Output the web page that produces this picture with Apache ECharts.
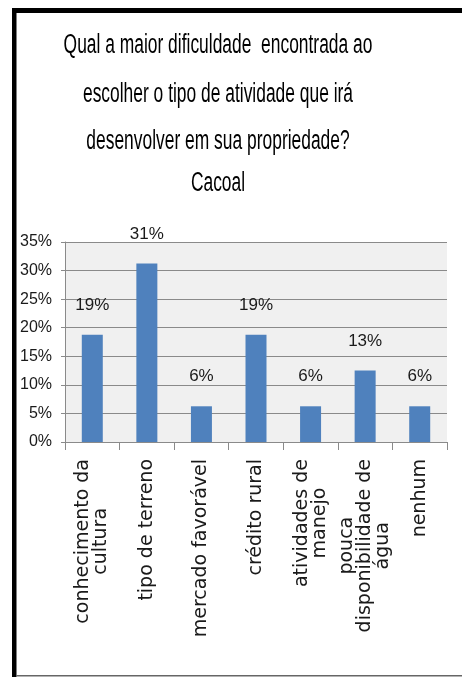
<!DOCTYPE html>
<html>
<head>
<meta charset="utf-8">
<script src="https://cdn.jsdelivr.net/npm/echarts@6/dist/echarts.min.js"></script>
<style>
  html, body { margin: 0; padding: 0; background: #fff; }
  #container { width: 462px; height: 677px; }
</style>
</head>
<body>
<div id="container"></div>
<script>
var dom = document.getElementById('container');
var myChart = echarts.init(dom, null, { renderer: 'canvas' });

// data (share of answers, %)
const titleLines = [
  'Qual a maior dificuldade  encontrada ao',
  'escolher o tipo de atividade que irá',
  'desenvolver em sua propriedade?',
  'Cacoal'
];
const categories = [
  'conhecimento da\ncultura',
  'tipo de terreno',
  'mercado favorável',
  'crédito rural',
  'atividades de\nmanejo',
  'pouca\ndisponibilidade de\nágua',
  'nenhum'
];
const values = [18.75, 31.25, 6.25, 18.75, 6.25, 12.5, 6.25];

const sans = "'Liberation Sans', Arial, sans-serif";
const titleY = [46, 95, 142, 184];

// title drawn as condensed text (the source font is narrow and tall)
var titleGraphics = titleLines.map(function (t, i) {
  return {
    type: 'text',
    x: 218,
    y: titleY[i],
    scaleX: 0.645,
    style: {
      text: t,
      font: '27px ' + sans,
      fill: '#000',
      textAlign: 'center',
      textVerticalAlign: 'middle'
    }
  };
});

var option = {
  backgroundColor: '#fff',
  animation: false,
  graphic: [
    { type: 'rect', shape: { x: 12, y: 8, width: 450, height: 5 }, style: { fill: '#000' } },
    { type: 'rect', shape: { x: 12, y: 8, width: 4.5, height: 669 }, style: { fill: '#000' } },
    { type: 'rect', shape: { x: 16, y: 675, width: 446, height: 1.5 }, style: { fill: '#666' } }
  ].concat(titleGraphics),
  grid: {
    left: 65,
    right: 15,
    top: 242,
    bottom: 235,
    show: true,
    backgroundColor: '#f0f0f0',
    borderWidth: 0
  },
  xAxis: {
    type: 'category',
    data: categories,
    axisLine: { lineStyle: { color: '#8a8a8a', width: 1 } },
    axisTick: { show: true, length: 8, lineStyle: { color: '#8a8a8a' } },
    axisLabel: {
      rotate: 90,
      margin: 17,
      interval: 0,
      formatter: function (v) {
        return v.split('\n').map(function (s) { return '{c|' + s + '}'; }).join('\n');
      },
      rich: {
        c: {
          align: 'center',
          fontFamily: "'DejaVu Sans', sans-serif",
          fontSize: 19,
          lineHeight: 18,
          color: '#1a1a1a'
        }
      }
    }
  },
  yAxis: {
    type: 'value',
    min: 0,
    max: 35,
    interval: 5,
    axisLine: { show: true, lineStyle: { color: '#8a8a8a' } },
    axisTick: { show: true, length: 4, lineStyle: { color: '#8a8a8a' } },
    axisLabel: {
      formatter: '{value}%',
      margin: 13,
      fontFamily: sans,
      fontSize: 16,
      color: '#1a1a1a'
    },
    splitLine: { show: true, lineStyle: { color: '#8a8a8a', width: 1 } }
  },
  series: [{
    type: 'bar',
    data: values,
    barWidth: 21,
    itemStyle: { color: '#4f81bd' },
    label: {
      show: true,
      position: 'top',
      distance: 21,
      formatter: function (p) { return Math.round(p.value) + '%'; },
      fontFamily: sans,
      fontSize: 17,
      color: '#1a1a1a'
    }
  }]
};

if (option && typeof option === 'object') {
  myChart.setOption(option);
}

window.addEventListener('resize', myChart.resize);
</script>
</body>
</html>
